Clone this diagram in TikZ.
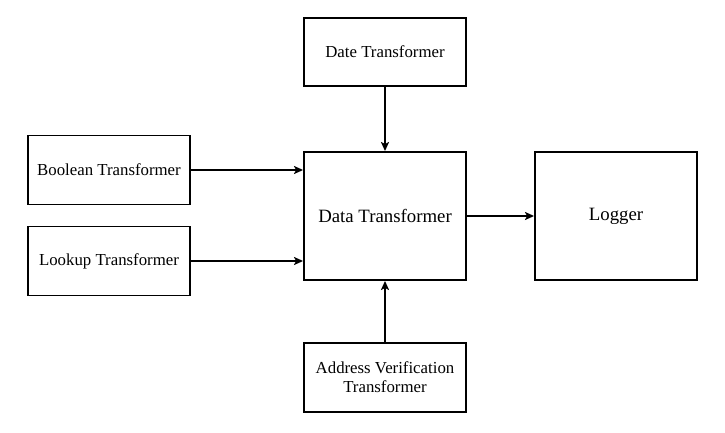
\documentclass[tikz,border=0pt]{standalone}
\usepackage{fontspec}
\setmainfont{Liberation Serif}
\usetikzlibrary{arrows.meta}
\begin{document}
\begin{tikzpicture}[x=1pt,y=-1pt,
  box/.style={draw,line width=1.9pt,inner sep=0pt,align=center,font=\fontsize{16.8}{19}\selectfont},
  bigbox/.style={box,font=\fontsize{18.8}{22}\selectfont},
  conn/.style={line width=1.9pt,-{Stealth[length=9pt,width=8pt,inset=2pt]}}]
\useasboundingbox (0,0) rectangle (725,433);
\node[box,minimum width=162pt,minimum height=68pt] (date) at (385,52) {Date Transformer};
\node[box,minimum width=162pt,minimum height=69pt] (bool) at (109,170) {Boolean Transformer};
\node[box,minimum width=162pt,minimum height=69pt] (look) at (109,261) {Lookup Transformer};
\node[bigbox,minimum width=162pt,minimum height=128pt] (data) at (385,216) {Data Transformer};
\node[bigbox,minimum width=162pt,minimum height=128pt] (log) at (616,216) {Logger};
\node[box,minimum width=162pt,minimum height=69pt] (addr) at (385,377.5) {Address Verification\\Transformer};
\draw[conn] (date.south) -- (data.north);
\draw[conn] (bool.east) -- (bool.east -| data.west);
\draw[conn] (look.east) -- (look.east -| data.west);
\draw[conn] (data.east) -- (log.west);
\draw[conn] (addr.north) -- (data.south);
\end{tikzpicture}
\end{document}
